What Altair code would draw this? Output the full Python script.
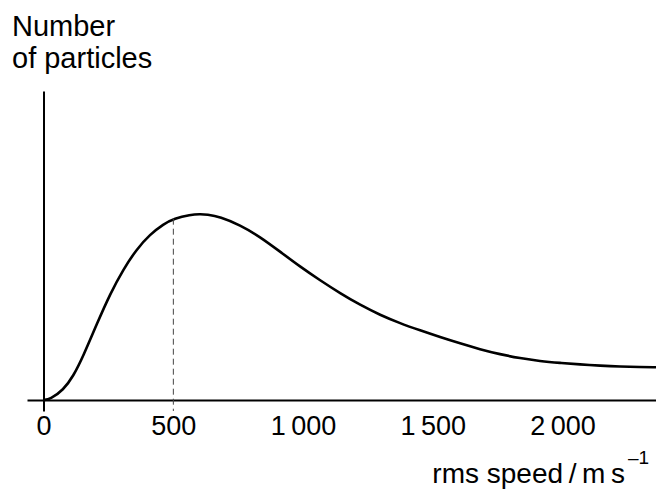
import altair as alt
import pandas as pd

# (arbitrary count units)
speeds = [0, 25, 76, 115, 153, 205, 256, 308, 359, 410, 462, 504, 565, 603, 629,
          680, 757, 834, 911, 988, 1066, 1143, 1220, 1297, 1374, 1451, 1528, 1605,
          1682, 1759, 1836, 1913, 1990, 2067, 2145, 2222, 2299, 2360]
counts = [0, 0.7, 10, 24, 44, 76, 106, 131, 151, 165.5, 176, 181.5, 185.3, 186, 185.6,
          183.3, 175, 163.2, 148.4, 133.4, 119.6, 106.7, 95, 85, 76.7, 69.6, 62.9, 56.6,
          50.7, 45.7, 41.8, 38.9, 37.1, 35.6, 34.3, 33.4, 33, 32.7]
tick_values = [0, 500, 1000, 1500, 2000]
marker_speed = [500]
marker_count = [181.3]

df = pd.DataFrame({"speed": speeds, "count": counts})
mk = pd.DataFrame({"speed": marker_speed, "count": marker_count})

FONT = "Liberation Sans"
W, H = 629, 320
xscale = alt.Scale(domain=[-64, 2360], nice=False, zero=False)
yscale = alt.Scale(domain=[-11, 309], nice=False, zero=False)

line = alt.Chart(df).mark_line(color="black", strokeWidth=2.6, interpolate="basis").encode(
    x=alt.X("speed:Q", scale=xscale,
            axis=alt.Axis(values=tick_values, title=None, ticks=False, grid=False,
                          domainColor="black", domainWidth=2.2, offset=-11,
                          labelFont=FONT, labelFontSize=27, labelColor="black",
                          labelPadding=13, labelFlush=False,
                          labelExpr="replace(format(datum.value, ','), ',', '\u2009')")),
    y=alt.Y("count:Q", scale=yscale,
            axis=alt.Axis(title=None, ticks=False, labels=False, grid=False,
                          domainColor="black", domainWidth=2, offset=-16.5)),
)

dash = alt.Chart(mk).mark_rule(color="#444", strokeWidth=1, strokeDash=[6, 4]).encode(
    x="speed:Q", y="count:Q", y2=alt.value(H)
)

ytitle = alt.Chart().mark_text(
    text=["Number", "of particles"], font=FONT, fontSize=29, align="left",
    baseline="alphabetic", lineHeight=32, color="black"
).encode(x=alt.value(-15), y=alt.value(-55))

xtitle = alt.Chart().mark_text(
    text="rms speed\u2009/\u2009m\u2009s", font=FONT, fontSize=28, align="right",
    baseline="alphabetic", color="black"
).encode(x=alt.value(598), y=alt.value(392))

xsup = alt.Chart().mark_text(
    text="\u20131", font=FONT, fontSize=19, align="left",
    baseline="alphabetic", color="black"
).encode(x=alt.value(601), y=alt.value(373))

chart = alt.layer(line, dash, ytitle, xtitle, xsup).properties(
    width=W, height=H,
    autosize=alt.AutoSizeParams(type="none"),
    padding={"left": 27, "top": 91, "right": 0, "bottom": 81},
).configure(background="white").configure_view(strokeWidth=0)

chart.save("out.html", embed_options={"renderer": "svg", "actions": False})
